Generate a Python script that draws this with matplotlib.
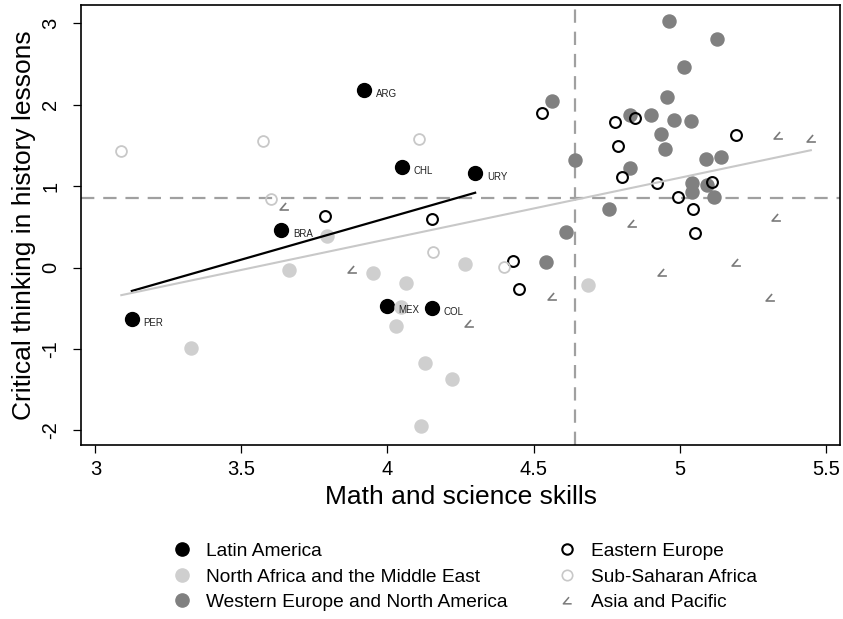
import numpy as np
import matplotlib
matplotlib.use("Agg")
import matplotlib.pyplot as plt
from matplotlib.path import Path
from matplotlib.lines import Line2D

plt.rcParams['font.family'] = ['Liberation Sans', 'DejaVu Sans']

# ---- data ----
la_codes = ["ARG", "CHL", "URY", "BRA", "PER", "MEX", "COL"]
la_x = [3.920, 4.050, 4.300, 3.637, 3.125, 3.998, 4.153]
la_y = [2.183, 1.233, 1.160, 0.463, -0.634, -0.471, -0.491]

name_x = [3.794, 3.664, 3.952, 3.328, 4.063, 4.265, 4.687, 4.045, 4.030, 4.128, 4.220, 4.115]
name_y = [0.393, -0.028, -0.069, -0.990, -0.192, 0.045, -0.209, -0.479, -0.716, -1.175, -1.363, -1.941]

wena_x = [4.564, 4.642, 4.830, 4.903, 4.830, 4.759, 4.610, 4.963, 5.127, 5.015, 4.958,
          4.979, 5.039, 4.936, 4.951, 5.090, 5.142, 5.042, 5.094, 5.042, 5.118, 4.544]
wena_y = [2.048, 1.323, 1.872, 1.872, 1.229, 0.721, 0.435, 3.034, 2.813, 2.469, 2.093,
          1.815, 1.806, 1.639, 1.458, 1.332, 1.364, 1.037, 1.016, 0.926, 0.872, 0.066]

ee_x = [3.786, 4.152, 4.430, 4.449, 4.530, 4.780, 4.846, 4.790, 4.804, 4.923, 5.111,
        4.994, 5.046, 5.052, 5.192]
ee_y = [0.639, 0.598, 0.086, -0.262, 1.904, 1.790, 1.839, 1.499, 1.118, 1.044, 1.057,
        0.872, 0.725, 0.422, 1.634]

ssa_x = [3.089, 3.575, 3.601, 4.108, 4.155, 4.399]
ssa_y = [1.437, 1.560, 0.844, 1.577, 0.189, 0.005]

asia_x = [3.646, 3.877, 4.280, 4.563, 4.838, 4.938, 5.193, 5.309, 5.329, 5.335, 5.449]
asia_y = [0.758, -0.020, -0.676, -0.348, 0.553, -0.049, 0.074, -0.356, 0.627, 1.630, 1.590]

mean_x = 4.642
mean_y = 0.853

legend_labels = ["Latin America", "North Africa and the Middle East",
                 "Western Europe and North America", "Eastern Europe",
                 "Sub-Saharan Africa", "Asia and Pacific"]

# ---- styles ----
c_name = "#cfcfcf"
c_wena = "#808080"
c_ssa = "#c8c8c8"
c_asia = "#7a7a7a"
asia_marker = Path([(0.18, 0.4), (-0.5, -0.4), (0.5, -0.4)],
                   [Path.MOVETO, Path.LINETO, Path.LINETO])

fig = plt.figure(figsize=(8.43, 6.19), dpi=100)
ax = fig.add_axes([0.0961, 0.2811, 0.9004, 0.7108])

ax.axvline(mean_x, color="#a0a0a0", lw=1.6, ls=(0, (6, 4)), zorder=1)
ax.axhline(mean_y, color="#a0a0a0", lw=1.6, ls=(0, (6, 4)), zorder=1)

ax.plot(la_x, la_y, 'o', color='black', ms=10, mec='black', zorder=2, label=legend_labels[0])
ax.plot(name_x, name_y, 'o', color=c_name, ms=9.4, mec=c_name, zorder=2, label=legend_labels[1])
ax.plot(wena_x, wena_y, 'o', color=c_wena, ms=9.4, mec=c_wena, zorder=2, label=legend_labels[2])
ax.plot(ee_x, ee_y, 'o', mfc='none', mec='black', ms=7.8, mew=1.5, zorder=2, label=legend_labels[3])
ax.plot(ssa_x, ssa_y, 'o', mfc='none', mec=c_ssa, ms=7.8, mew=1.3, zorder=2, label=legend_labels[4])
ax.plot(asia_x, asia_y, ls='none', marker=asia_marker, mfc='none', mec=c_asia, ms=6.3, mew=1.2,
        zorder=2, label=legend_labels[5])

for code, x, y in zip(la_codes, la_x, la_y):
    ax.annotate(code, (x, y), xytext=(8.5, -3), textcoords='offset points',
                fontsize=7, color='#222222', va='center', ha='left', zorder=4)

# fit lines
lx = np.array(la_x); ly = np.array(la_y)
b1, a1 = np.polyfit(lx, ly, 1)
xs = np.array([lx.min(), lx.max()])
ax.plot(xs, a1 + b1 * xs, color='black', lw=1.6, zorder=3)

all_x = np.concatenate([la_x, name_x, wena_x, ee_x, ssa_x, asia_x])
all_y = np.concatenate([la_y, name_y, wena_y, ee_y, ssa_y, asia_y])
b2, a2 = np.polyfit(all_x, all_y, 1)
xs2 = np.array([all_x.min(), all_x.max()])
ax.plot(xs2, a2 + b2 * xs2, color='#c8c8c8', lw=1.5, zorder=3)

ax.set_xlim(2.951, 5.549)
ax.set_ylim(-2.18, 3.227)
ax.set_xticks([3, 3.5, 4, 4.5, 5, 5.5])
ax.set_xticklabels(["3", "3.5", "4", "4.5", "5", "5.5"])
ax.set_yticks([-2, -1, 0, 1, 2, 3])
ax.set_yticklabels(["-2", "-1", "0", "1", "2", "3"], rotation=90, va='center')
ax.tick_params(axis='both', direction='out', length=5.8, width=0.9, labelsize=14.5, color='black')
ax.tick_params(axis='y', pad=9)
ax.tick_params(axis='x', pad=5)
for s in ax.spines.values():
    s.set_linewidth(1.2)
    s.set_color('black')

ax.set_xlabel("Math and science skills", fontsize=19, labelpad=4)
ax.set_ylabel("Critical thinking in history lessons", fontsize=19, labelpad=4)

handles = [
    Line2D([], [], ls='none', marker='o', color='black', ms=9.5),
    Line2D([], [], ls='none', marker='o', color=c_name, ms=9.5),
    Line2D([], [], ls='none', marker='o', color=c_wena, ms=9.5),
    Line2D([], [], ls='none', marker='o', mfc='none', mec='black', ms=7.5, mew=1.5),
    Line2D([], [], ls='none', marker='o', mfc='none', mec=c_ssa, ms=7.5, mew=1.2),
    Line2D([], [], ls='none', marker=asia_marker, mfc='none', mec=c_asia, ms=6, mew=1.1),
]
fig.legend(handles, legend_labels, ncol=2, loc='center', bbox_to_anchor=(0.5514, 0.068),
           frameon=False, fontsize=13.8, handlelength=1.0, handletextpad=0.75,
           columnspacing=2.6, labelspacing=0.42)

fig.savefig("out.png", dpi=100)
